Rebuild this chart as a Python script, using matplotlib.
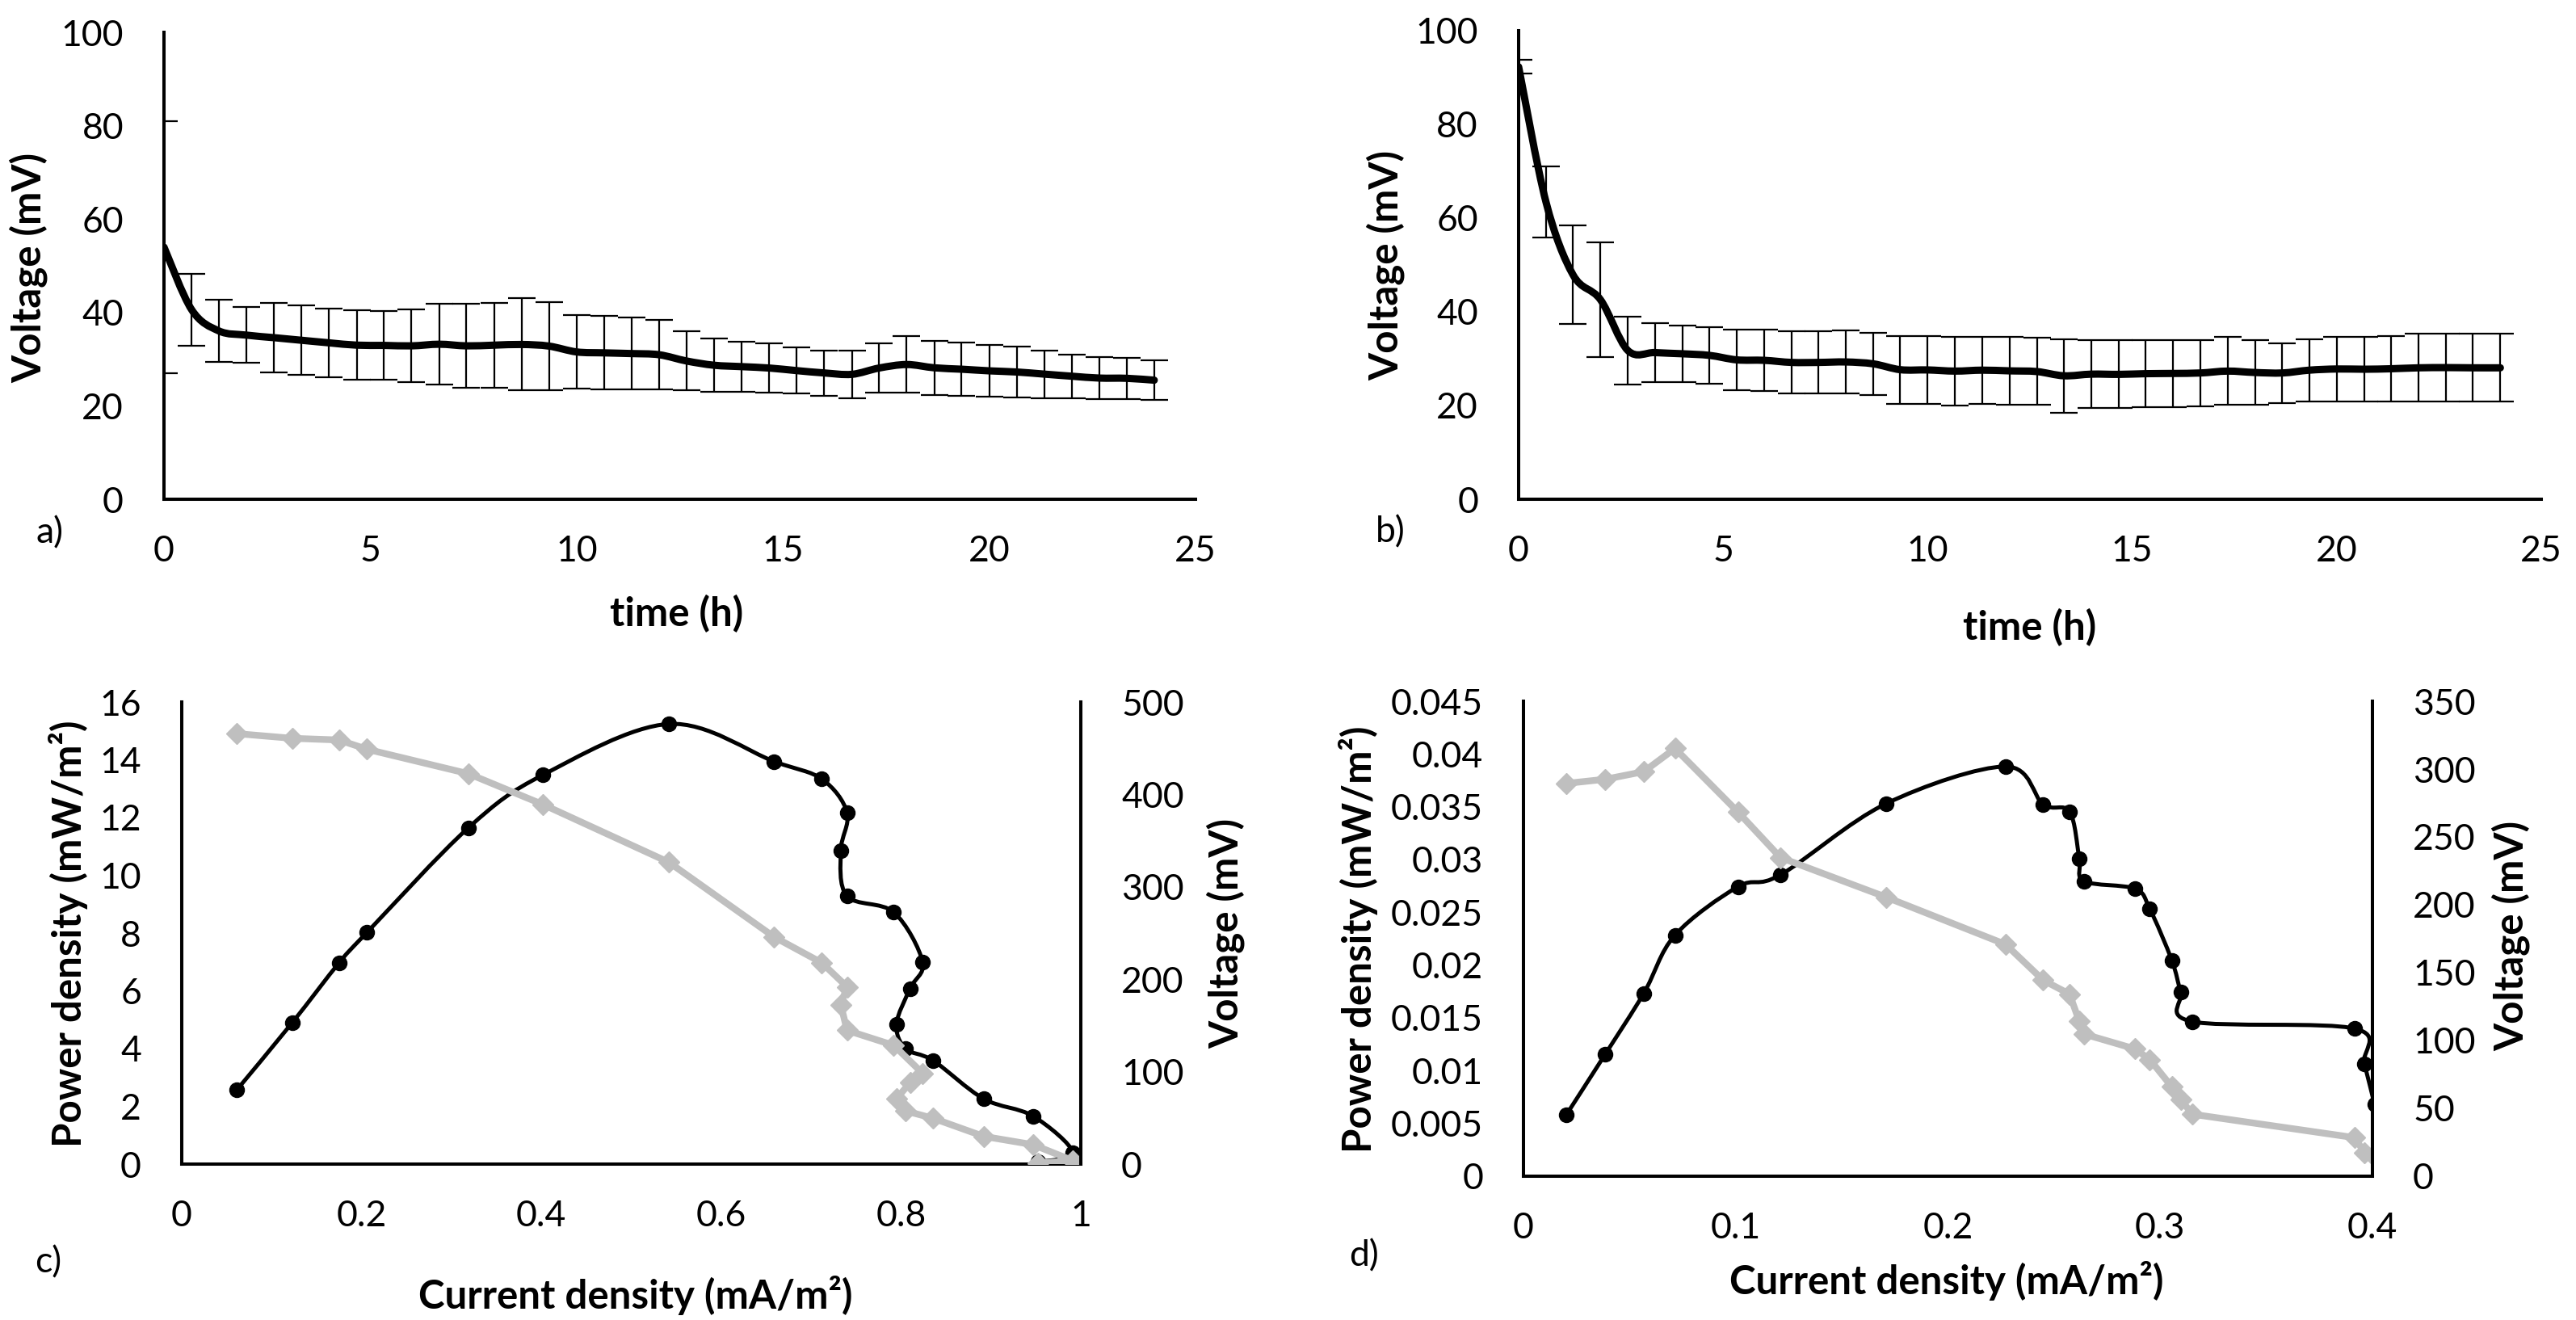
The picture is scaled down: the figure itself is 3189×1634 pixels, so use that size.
import numpy as np
import matplotlib
matplotlib.use("Agg")
import matplotlib.pyplot as plt
from matplotlib.path import Path
from matplotlib.patches import PathPatch

plt.rcParams['font.family'] = ['Lato', 'DejaVu Sans']

# ---- data ----
# a) and b): voltage vs time, one point every 40 min
time_h = [0, 0.67, 1.33, 2, 2.67, 3.33, 4, 4.67, 5.33, 6, 6.67, 7.33, 8, 8.67,
          9.33, 10, 10.67, 11.33, 12, 12.67, 13.33, 14, 14.67, 15.33, 16, 16.67,
          17.33, 18, 18.67, 19.33, 20, 20.67, 21.33, 22, 22.67, 23.33, 24]

volt_a = [54.0, 40.6, 36.05, 35.15, 34.6, 34.05, 33.5, 33.0, 32.95, 32.85, 33.2,
          32.85, 33.0, 33.15, 32.8, 31.55, 31.35, 31.2, 30.95, 29.6, 28.7, 28.4,
          28.1, 27.55, 27.05, 26.75, 28.1, 28.85, 28.15, 27.85, 27.5, 27.25, 26.8,
          26.35, 25.95, 25.9, 25.5]
err_a = [27.0, 7.7, 6.65, 5.95, 7.5, 7.45, 7.3, 7.4, 7.35, 7.75, 8.6, 8.95, 9.1,
         9.85, 9.5, 7.85, 7.85, 7.7, 7.45, 6.3, 5.7, 5.4, 5.3, 4.95, 4.85, 5.05,
         5.3, 6.05, 5.75, 5.65, 5.6, 5.45, 5.1, 4.65, 4.45, 4.4, 4.3]

volt_b = [92.3, 63.4, 47.9, 42.6, 31.75, 31.3, 31.05, 30.7, 29.75, 29.65, 29.2,
          29.2, 29.3, 28.9, 27.65, 27.6, 27.35, 27.55, 27.4, 27.25, 26.35, 26.7,
          26.65, 26.8, 26.85, 26.95, 27.35, 27.05, 26.95, 27.55, 27.8, 27.75,
          27.85, 28.05, 28.1, 28.05, 28.05]
err_b = [1.5, 7.6, 10.5, 12.3, 7.25, 6.3, 6.05, 6.1, 6.45, 6.55, 6.6, 6.6, 6.7,
         6.7, 7.25, 7.3, 7.35, 7.15, 7.3, 7.15, 7.85, 7.3, 7.25, 7.1, 7.15, 7.05,
         7.25, 6.95, 6.35, 6.65, 6.9, 6.95, 7.05, 7.25, 7.3, 7.25, 7.25]

# c) polarisation curve
cur_c = [0.061, 0.123, 0.175, 0.206, 0.319, 0.402, 0.542, 0.659, 0.712, 0.740,
         0.733, 0.740, 0.792, 0.824, 0.810, 0.795, 0.805, 0.836, 0.892, 0.947,
         0.991, 0.952]
pow_c = [2.56, 4.90, 6.97, 8.02, 11.65, 13.48, 15.24, 13.94, 13.33, 12.17, 10.85,
         9.28, 8.72, 7.00, 6.08, 4.85, 4.0, 3.58, 2.26, 1.66, 0.40, 0.07]
vol_c = [465.8, 460.7, 458.9, 448.9, 422.4, 389.0, 326.5, 245.7, 217.8, 191.8,
         172.6, 144.7, 128.5, 98.3, 88.0, 70.8, 57.5, 49.5, 30.0, 21.0, 3.8, 0.9]

# d) polarisation curve
cur_d = [0.0201, 0.0386, 0.0567, 0.0714, 0.1011, 0.1211, 0.1709, 0.2272, 0.2449,
         0.2573, 0.2619, 0.2642, 0.2881, 0.2951, 0.3055, 0.3097, 0.3151, 0.3917,
         0.3962, 0.401]
pow_d = [0.00579, 0.01158, 0.01733, 0.02284, 0.02743, 0.02855, 0.03530, 0.03881,
         0.03522, 0.03454, 0.03011, 0.02795, 0.02723, 0.02532, 0.02044, 0.01745,
         0.01465, 0.01398, 0.01066, 0.0068]
vol_d = [289.4, 292.5, 298.1, 315.2, 268.3, 234.8, 205.6, 170.8, 144.4, 134.2,
         114.0, 104.7, 93.8, 86.0, 65.8, 56.5, 45.7, 28.4, 17.4, 14.0]

# tick labels
ticks_time = ['0', '5', '10', '15', '20', '25']
ticks_v100 = ['0', '20', '40', '60', '80', '100']
ticks_cur_c = ['0', '0.2', '0.4', '0.6', '0.8', '1']
ticks_pow_c = ['0', '2', '4', '6', '8', '10', '12', '14', '16']
ticks_vol_c = ['0', '100', '200', '300', '400', '500']
ticks_cur_d = ['0', '0.1', '0.2', '0.3', '0.4']
ticks_pow_d = ['0', '0.005', '0.01', '0.015', '0.02', '0.025', '0.03', '0.035',
               '0.04', '0.045']
ticks_vol_d = ['0', '50', '100', '150', '200', '250', '300', '350']

GREY = '#bfbfbf'
W, H = 3189, 1634
TICK_FS = 32
LAB_FS = 35.5


def smooth_line(ax, x, y, **kw):
    # excel-like smoothed line (catmull-rom as bezier segments)
    pts = np.column_stack([x, y]).astype(float)
    n = len(pts)
    verts = [pts[0]]
    codes = [Path.MOVETO]
    for i in range(n - 1):
        p0 = pts[max(i - 1, 0)]
        p1 = pts[i]
        p2 = pts[i + 1]
        p3 = pts[min(i + 2, n - 1)]
        verts += [p1 + (p2 - p0) / 6, p2 - (p3 - p1) / 6, p2]
        codes += [Path.CURVE4] * 3
    patch = PathPatch(Path(verts, codes), fill=False, capstyle='round',
                      joinstyle='round', **kw)
    ax.add_patch(patch)


def box(l, r, t, b):
    return [l / W, 1 - b / H, (r - l) / W, (b - t) / H]


def label(x, y, s, **kw):
    fig.text(x / W, 1 - y / H, s, ha='center', va='center', **kw)


def style(ax, right=False):
    for s in ['top', 'right', 'left', 'bottom']:
        ax.spines[s].set_visible(False)
    sides = ['right'] if right else ['left', 'bottom']
    for s in sides:
        ax.spines[s].set_visible(True)
        ax.spines[s].set_linewidth(2.9)
    ax.tick_params(length=0, labelsize=TICK_FS)
    ax.tick_params(axis='y', pad=36)
    ax.tick_params(axis='x', pad=32)


fig = plt.figure(figsize=(W / 100, H / 100), dpi=100)

# ---- a) and b) ----
for pos, v, e, lab in [((203, 1480, 40, 618), volt_a, err_a, 'a'),
                       ((1880, 3146, 38, 618), volt_b, err_b, 'b')]:
    ax = fig.add_axes(box(*pos))
    style(ax)
    ax.errorbar(time_h, v, yerr=e, fmt='none', ecolor='black', elinewidth=1.6,
                capsize=12.5, capthick=1.6)
    smooth_line(ax, time_h, v, edgecolor='black', linewidth=6.5, zorder=3)
    ax.set_xlim(0, 25)
    ax.set_ylim(0, 100)
    ax.set_xticks([0, 5, 10, 15, 20, 25])
    ax.set_xticklabels(ticks_time)
    ax.set_yticks([0, 20, 40, 60, 80, 100])
    ax.set_yticklabels(ticks_v100)

label(35, 331, 'Voltage (mV)', rotation=90, fontsize=LAB_FS, fontweight='bold')
label(838, 760, 'time (h)', fontsize=LAB_FS, fontweight='bold')
label(62, 660, 'a)', fontsize=TICK_FS)
label(1715, 328, 'Voltage (mV)', rotation=90, fontsize=LAB_FS, fontweight='bold')
label(2513, 777, 'time (h)', fontsize=LAB_FS, fontweight='bold')
label(1721, 659, 'b)', fontsize=TICK_FS)

# ---- c) and d) ----
panels = [((225, 1338, 869, 1441), cur_c, pow_c, vol_c,
           (1.0, [0, 0.2, 0.4, 0.6, 0.8, 1.0], ticks_cur_c),
           (16, list(range(0, 17, 2)), ticks_pow_c),
           (500, list(range(0, 501, 100)), ticks_vol_c)),
          ((1886, 2937, 868, 1456), cur_d, pow_d, vol_d,
           (0.4, [0, 0.1, 0.2, 0.3, 0.4], ticks_cur_d),
           (0.045, [i * 0.005 for i in range(10)], ticks_pow_d),
           (350, list(range(0, 351, 50)), ticks_vol_d))]

for pos, cur, pw, vo, xs, ys, y2s in panels:
    ax = fig.add_axes(box(*pos))
    style(ax)
    smooth_line(ax, cur, pw, edgecolor='black', linewidth=3.6, zorder=3)
    ax.plot(cur, pw, 'o', color='black', markersize=13, zorder=4)
    ax.set_xlim(0, xs[0])
    ax.set_xticks(xs[1])
    ax.set_xticklabels(xs[2])
    ax.set_ylim(0, ys[0])
    ax.set_yticks(ys[1])
    ax.set_yticklabels(ys[2])

    ax2 = ax.twinx()
    style(ax2, right=True)
    ax2.plot(cur, vo, '-D', color=GREY, linewidth=6, markersize=13)
    ax2.set_ylim(0, y2s[0])
    ax2.set_yticks(y2s[1])
    ax2.set_yticklabels(y2s[2])

label(85, 1156, 'Power density (mW/m²)', rotation=90, fontsize=LAB_FS, fontweight='bold')
label(1517, 1155, 'Voltage (mV)', rotation=90, fontsize=LAB_FS, fontweight='bold')
label(787, 1603, 'Current density (mA/m²)', fontsize=LAB_FS, fontweight='bold')
label(60, 1563, 'c)', fontsize=TICK_FS)
label(1681, 1163, 'Power density (mW/m²)', rotation=90, fontsize=LAB_FS, fontweight='bold')
label(3108, 1158, 'Voltage (mV)', rotation=90, fontsize=LAB_FS, fontweight='bold')
label(2410, 1585, 'Current density (mA/m²)', fontsize=LAB_FS, fontweight='bold')
label(1688, 1555, 'd)', fontsize=TICK_FS)

fig.savefig('out.png', dpi=100)
